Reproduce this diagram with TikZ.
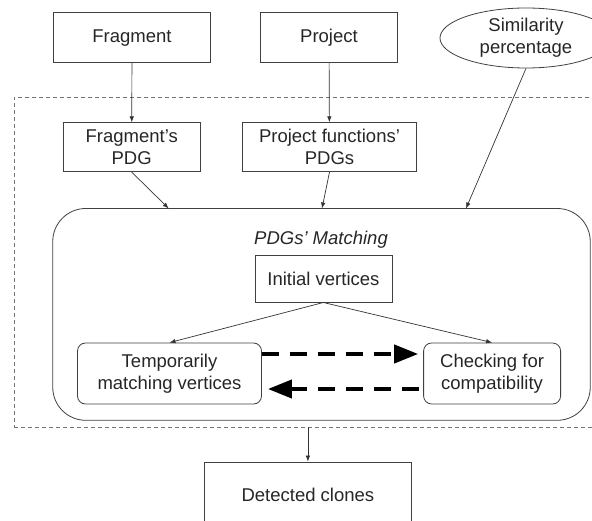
\documentclass[tikz,border=0pt]{standalone}
\usepackage{fontspec}
\setmainfont{Liberation Sans}
\usetikzlibrary{arrows.meta,shapes.geometric}

\tikzset{
  box/.style={draw=black!75,line width=0.8pt,inner sep=0pt,align=center,text=black!85},
  stage/.style={box,rounded corners=8pt},
  link/.style={draw=black!80,line width=0.7pt,-{Latex[length=6pt,width=4.5pt]}},
  swap/.style={line width=4pt,dash pattern=on 17pt off 11pt,shorten >=5pt,-{Triangle[length=24pt,width=18pt]}},
}

\begin{document}
\begin{tikzpicture}[x=1pt,y=-1pt,font=\fontsize{18.5}{22}\selectfont]
\clip (0,0) rectangle (592,521);

%%%%%%%%%%%%% inputs
\node[box,minimum width=156.7pt,minimum height=50pt] (frag) at (132,37.7) {Fragment};
\node[box,minimum width=137pt,minimum height=50pt] (proj) at (329,37.7) {Project};
\node[box,ellipse,minimum width=172pt,minimum height=60pt] (sim) at (526,38) {Similarity\\percentage};

%%%%%%%%%%%%% dashed zone
\node[draw=black!55,line width=0.8pt,dash pattern=on 4pt off 3pt,inner sep=0pt,
      minimum width=606pt,minimum height=329.3pt] (zone) at (317,262.4) {};

\node[box,minimum width=136.6pt,minimum height=49pt] (fragpdg) at (131.7,147.2) {Fragment's\\PDG};
\node[box,minimum width=173.7pt,minimum height=49pt] (projpdg) at (329.5,147.2) {Project functions'\\PDGs};
\draw[link] (frag) -- (fragpdg);
\draw[link] (proj) -- (projpdg);

%%%%%%%%%%%%% matching
\node[box,rounded corners=33pt,minimum width=537.5pt,minimum height=211.8pt] (match) at (321.5,314.4) {};
\node[text=black!85,font=\fontsize{18.5}{22}\selectfont\itshape] (matchname) at (321,240) {PDGs' Matching};
\coordinate (inA) at (168.7,208.5);
\coordinate (inB) at (322,208.5);
\coordinate (inC) at (466,208.5);
\draw[link] (fragpdg.south) -- (inA);
\draw[link] (projpdg.south) -- (inB);
\draw[link] (sim.south) -- (inC);

\node[box,minimum width=137pt,minimum height=47pt] (init) at (323.4,278.6) {Initial vertices};
\node[stage,minimum width=184pt,minimum height=61pt] (temp) at (169.5,373.5) {Temporarily\\matching vertices};
\node[stage,minimum width=137pt,minimum height=61pt] (check) at (492.1,373.5) {Checking for\\compatibility};
\draw[link] (init.south) -- (temp.north);
\draw[link] (init.south) -- (check.north);

\draw[swap] ([yshift=19.5pt]temp.east) -- ([yshift=19.5pt]check.west);
\draw[swap,shorten <=4pt,shorten >=6pt] ([yshift=-15.5pt]check.west) -- ([yshift=-15.5pt]temp.east);

%%%%%%%%%%%%% output
\node[box,minimum width=207.7pt,minimum height=66pt] (clones) at (307.9,495) {Detected clones};
\coordinate (out) at (zone.south -| clones.north);
\draw[link] (out) -- (clones);

\end{tikzpicture}
\end{document}
